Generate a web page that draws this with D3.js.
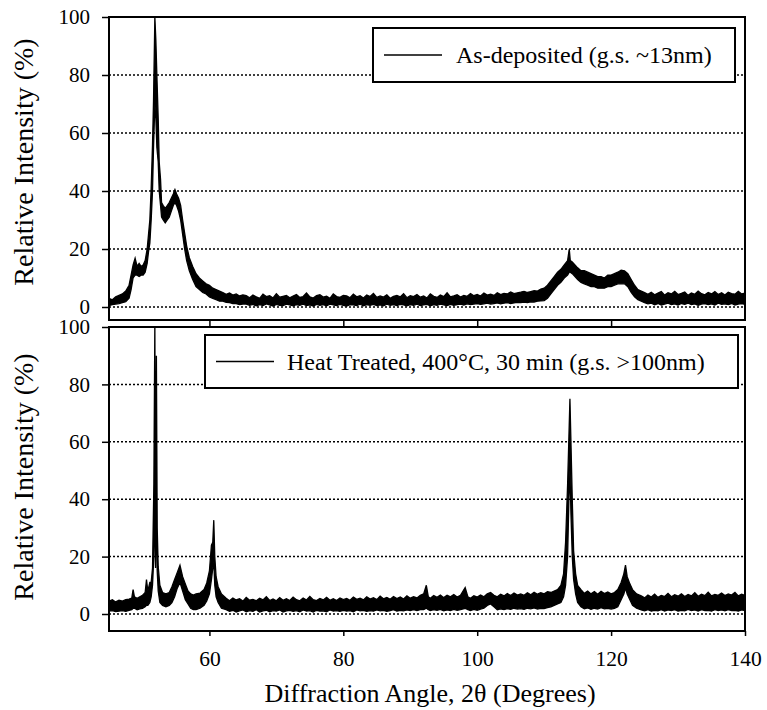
<!DOCTYPE html>
<html>
<head>
<meta charset="utf-8">
<script src="https://cdn.jsdelivr.net/npm/d3@7"></script>
<style>
  body { margin: 0; background: #fff; }
  svg text { font-family: "Liberation Serif", "Times New Roman", Times, serif !important; fill: #000; }
</style>
</head>
<body>
<div id="chart"></div>
<script>
// tick values
const yTicks = [0, 20, 40, 60, 80, 100];
const gridTicks = [0, 20, 40, 60, 80];
const xTicks = [60, 80, 100, 120, 140];

const legendLabels = ['As-deposited (g.s. ~13nm)', 'Heat Treated, 400\u00B0C, 30 min (g.s. >100nm)'];

// [angle, low edge of noise band, high edge of noise band]
const asDeposited = [
  [45, 0.5, 3], [45.5, 0.8, 2.5], [46, 1, 3.5], [46.5, 1.2, 4], [47, 1.5, 4.5], [47.5, 1.8, 5.5],
  [48, 3, 7.5], [48.3, 6, 11], [48.6, 10, 14.5], [48.9, 11, 16.8], [49.2, 11, 14], [49.5, 10.5, 15],
  [49.8, 11, 14], [50.1, 11, 14.5], [50.4, 12, 16], [50.7, 15, 20], [50.9, 19, 25], [51.1, 22, 30],
  [51.3, 30, 41], [51.5, 40, 56], [51.65, 55, 71], [51.85, 70, 100], [52.0, 65, 92], [52.15, 55, 80],
  [52.35, 50, 65], [52.5, 40, 50], [52.7, 35, 44], [52.85, 31, 36], [53.1, 30, 35], [53.4, 29, 34],
  [53.7, 30, 35], [54.0, 31, 36], [54.3, 33, 37.5], [54.6, 35, 39], [54.85, 36, 40.5], [55.1, 35, 39],
  [55.4, 33, 37.5], [55.7, 30, 35], [56.0, 25, 30], [56.3, 20, 25.5], [56.6, 16, 21], [57.0, 12.5, 17],
  [57.5, 9.5, 14], [58.0, 7, 11.5], [58.5, 6, 10], [59.0, 5, 9], [59.5, 4.5, 8], [60, 3.5, 7.5],
  [60.5, 3, 6.5], [61, 2.5, 6], [61.5, 2, 5.5], [62, 2, 5], [62.5, 1.6, 4.4], [63, 1.5, 4.8],
  [63.5, 1.2, 4.1], [64, 1.2, 4.5], [64.5, 0.8, 3.8], [65, 1, 4.2],
  [65.5, 1.0, 3.9], [66, 0.6, 3.2], [66.5, 0.9, 4.1], [67, 0.4, 3.5], [67.5, 0.8, 3.0], [68, 0.5, 4.4],
  [68.5, 1.1, 3.6], [69, 0.7, 3.9], [69.5, 0.3, 3.1], [70, 0.9, 4.6], [70.5, 0.6, 3.4], [71, 0.5, 3.7],
  [71.5, 1.0, 4.0], [72, 0.7, 3.2], [72.5, 0.4, 3.8], [73, 0.8, 4.3], [73.5, 0.6, 3.3], [74, 1.0, 3.6],
  [74.5, 0.5, 4.8], [75, 0.7, 3.5], [75.5, 0.3, 3.1], [76, 0.9, 3.9], [76.5, 0.6, 4.2], [77, 0.8, 3.4],
  [77.5, 0.4, 3.7], [78, 1.0, 3.0], [78.5, 0.7, 4.5], [79, 0.5, 3.6], [79.5, 0.9, 3.3], [80, 0.6, 4.0],
  [80.5, 0.3, 3.8], [81, 0.8, 3.2], [81.5, 0.7, 4.4], [82, 0.5, 3.5], [82.5, 1.0, 3.9], [83, 0.4, 3.1],
  [83.5, 0.8, 4.1], [84, 0.6, 3.6], [84.5, 0.9, 4.7], [85, 0.5, 3.3], [85.5, 0.7, 3.8], [86, 0.4, 3.4],
  [86.5, 1.0, 4.2], [87, 0.6, 3.0], [87.5, 0.8, 3.7], [88, 0.5, 4.0], [88.5, 0.9, 3.5], [89, 0.7, 4.6],
  [89.5, 0.4, 3.2], [90, 0.8, 3.9], [90.5, 0.6, 3.6], [91, 1.0, 4.3], [91.5, 0.5, 3.4], [92, 0.7, 3.8],
  [92.5, 0.9, 3.1], [93, 0.4, 4.5], [93.5, 0.8, 3.7], [94, 0.6, 3.3], [94.5, 1.0, 4.1], [95, 0.7, 3.6],
  [95.5, 0.5, 4.9], [96, 0.9, 3.5], [96.5, 0.6, 3.8], [97, 0.8, 4.2], [97.5, 1.0, 3.4], [98, 0.7, 4.0],
  [98.5, 1.1, 3.7], [99, 0.8, 4.6], [99.5, 1.0, 3.9], [100, 1.2, 4.3], [100.5, 0.9, 3.8], [101, 1.1, 4.8],
  [101.5, 1.3, 4.1], [102, 1.0, 4.4], [102.5, 1.2, 4.0], [103, 1.4, 4.9], [103.5, 1.1, 4.3], [104, 1.3, 4.7],
  [104.5, 1.5, 4.5], [105, 1.2, 5.2], [105.5, 1.4, 4.6], [106, 1.6, 4.9], [106.5, 1.5, 5.1], [107, 1.7, 5.4],
  [107.5, 1.5, 5.0], [108, 1.8, 5.3], [108.5, 1.7, 5.6], [109, 2, 5.5], [109.5, 2.1, 6.2], [110, 2.2, 6.5],
  [110.5, 3, 7.5], [111, 4.5, 9], [111.5, 6, 10.5],
  [112, 7.5, 12], [112.5, 8.5, 13], [113, 10, 14.5], [113.5, 11, 16], [113.75, 12, 20], [113.9, 12, 16],
  [114.2, 11.5, 15.5], [114.6, 10.5, 14.5], [115, 9.5, 13.5], [115.5, 8.5, 12.5], [116, 8, 12.5],
  [116.5, 7.5, 12], [117, 7, 11.5], [117.5, 7, 11], [118, 6.5, 10.5], [118.5, 6.5, 10.5], [119, 6.5, 10],
  [119.5, 7, 11], [120, 7, 11], [120.5, 7.5, 11.5], [121, 8, 12], [121.5, 8, 12.7], [122, 8, 12.5],
  [122.5, 7, 11.5], [123, 5, 9.5], [123.5, 3.5, 7.5], [124, 2.5, 6], [124.5, 2, 5.5],
  [125, 1.5, 5.0], [125.5, 1.1, 4.4], [126, 1.3, 5.1], [126.5, 0.8, 4.2], [127, 1.2, 4.8], [127.5, 0.7, 5.3],
  [128, 1.0, 4.1], [128.5, 1.3, 4.9], [129, 0.8, 4.5], [129.5, 1.1, 5.4], [130, 0.7, 4.3], [130.5, 1.2, 4.7],
  [131, 0.9, 5.2], [131.5, 1.3, 4.0], [132, 0.8, 4.8], [132.5, 1.1, 4.4], [133, 0.6, 5.5], [133.5, 1.0, 4.6],
  [134, 1.2, 4.2], [134.5, 0.8, 5.0], [135, 1.1, 4.5], [135.5, 0.7, 5.3], [136, 1.3, 4.3], [136.5, 0.9, 4.9],
  [137, 1.1, 4.1], [137.5, 0.8, 5.1], [138, 1.2, 4.6], [138.5, 0.7, 4.4], [139, 1.0, 5.4], [139.5, 1.2, 4.5],
  [140, 0.9, 4.8]
];

const heatTreated = [
  [45, 1, 4.5], [45.5, 1.2, 5], [46, 0.8, 4.2], [46.5, 1, 4.8], [47, 1.2, 4.5], [47.5, 0.9, 5],
  [48, 1.3, 5.2], [48.4, 1.5, 5.5], [48.6, 2, 8.5], [48.8, 2, 6], [49.2, 1.5, 5.5], [49.6, 1.8, 6],
  [50, 2, 6.5], [50.4, 2.5, 7.5], [50.6, 3, 12], [50.8, 3, 8], [51.1, 4, 11], [51.3, 6, 11],
  [51.5, 10, 16], [51.7, 20, 45], [51.85, 40, 102], [51.95, 16, 25], [52.08, 40, 90], [52.2, 15, 30],
  [52.35, 8, 16.5], [52.6, 4, 10], [53, 3, 7.5], [53.5, 2.5, 7], [54, 3, 7.5], [54.4, 4, 9.5],
  [54.8, 6, 12], [55.2, 9, 14.5], [55.6, 11, 17], [56.0, 8, 13], [56.4, 5, 10.5], [56.8, 3.5, 8],
  [57.2, 2, 7], [57.6, 1.5, 6.6], [58.0, 1.5, 7], [58.6, 2, 7.3], [59.2, 3, 8.5], [59.6, 4.5, 10.8],
  [60.0, 7, 15], [60.3, 12, 24], [60.5, 16, 25], [60.65, 18, 32.7], [60.8, 10, 20], [61.0, 6, 13],
  [61.3, 4, 9.5], [61.8, 2, 7],
  [62.5, 1.5, 5.5], [63, 0.9, 4.6], [63.5, 1.3, 5.6], [64, 0.7, 4.9], [64.5, 1.1, 5.3], [65, 1.4, 4.5],
  [65.5, 0.8, 5.8], [66, 1.2, 4.8], [66.5, 0.9, 5.1], [67, 1.5, 4.6], [67.5, 0.7, 5.5], [68, 1.1, 4.9],
  [68.5, 1.3, 6.0], [69, 0.8, 4.7], [69.5, 1.2, 5.2], [70, 1.0, 4.6], [70.5, 1.4, 5.7], [71, 0.7, 4.8],
  [71.5, 1.1, 5.3], [72, 1.3, 4.7], [72.5, 0.9, 5.9], [73, 1.2, 5.0], [73.5, 0.8, 4.6], [74, 1.4, 5.6],
  [74.5, 1.0, 4.9], [75, 1.2, 6.1], [75.5, 0.7, 5.0], [76, 1.3, 4.7], [76.5, 1.0, 5.4], [77, 1.1, 4.9],
  [77.5, 0.8, 5.8], [78, 1.4, 4.8], [78.5, 1.0, 5.3], [79, 1.2, 4.7], [79.5, 0.9, 5.6], [80, 1.3, 5.0],
  [80.5, 1.0, 5.4], [81, 1.2, 4.8], [81.5, 0.8, 5.9], [82, 1.4, 5.1], [82.5, 1.1, 5.5], [83, 1.3, 4.9],
  [83.5, 0.9, 6.0], [84, 1.2, 5.2], [84.5, 1.0, 5.7], [85, 1.4, 5.0], [85.5, 1.1, 6.2], [86, 1.3, 5.3],
  [86.5, 0.9, 5.8], [87, 1.2, 5.1], [87.5, 1.5, 6.1], [88, 1.0, 5.4], [88.5, 1.3, 5.9], [89, 1.1, 5.2],
  [89.5, 1.4, 6.3], [90, 1.2, 5.5], [90.5, 1.5, 6.0], [91, 1.2, 5.6], [91.5, 1.5, 6.5], [92, 1.5, 7],
  [92.4, 2, 10], [92.7, 1.5, 6], [93, 1.2, 5.5], [93.5, 1.5, 6.4], [94, 1.3, 5.8], [94.5, 1.6, 6.6],
  [95, 1.1, 5.7], [95.5, 1.4, 6.5], [96, 1.2, 6.0], [96.5, 1.6, 6.8], [97, 1.3, 5.9], [97.5, 1.5, 6.5],
  [98.2, 2, 9.2], [98.6, 1.5, 6], [99, 1.2, 5.5], [99.5, 1.6, 6.4], [100, 1.3, 5.9], [100.5, 1.7, 6.6],
  [101, 2, 6], [101.5, 3, 7], [102, 3.5, 7.5], [102.5, 2.5, 6.5], [103, 1.5, 6], [103.5, 1.8, 6.9],
  [104, 1.5, 6.3], [104.5, 1.9, 7.1], [105, 1.6, 6.4], [105.5, 2.0, 7.3], [106, 1.7, 6.6], [106.5, 1.9, 7.0],
  [107, 1.6, 6.5], [107.5, 2.0, 7.4], [108, 1.8, 6.7], [108.5, 2.1, 7.6], [109, 1.7, 6.9], [109.5, 2.0, 7.4],
  [110, 1.9, 7.0], [110.5, 2.2, 7.8], [111, 2.5, 7.5], [111.5, 3, 8], [112, 3.5, 8.5], [112.5, 4, 10],
  [112.9, 6, 14], [113.2, 10, 25], [113.5, 20, 45], [113.7, 40, 62], [113.85, 50, 75], [114.0, 35, 60],
  [114.2, 20, 40], [114.4, 12, 22], [114.7, 7, 14], [115, 4, 10],
  [115.5, 2.5, 8.5], [116, 1.8, 7.2], [116.5, 2.1, 8.0], [117, 1.6, 7.0], [117.5, 2.0, 7.8], [118, 1.7, 6.9],
  [118.5, 2.2, 7.9], [119, 1.8, 7.1], [119.5, 2.0, 7.7], [120, 1.7, 7.0], [120.5, 2, 7.5], [121, 2.5, 8.5],
  [121.5, 5, 11], [121.9, 7, 14], [122.15, 9, 17], [122.4, 7, 13], [122.8, 5, 10.5], [123.2, 3, 8.5],
  [123.8, 2, 7],
  [124.5, 1.4, 6.3], [125, 1.1, 5.6], [125.5, 1.5, 6.6], [126, 1.0, 5.9], [126.5, 1.3, 6.9], [127, 1.1, 5.8],
  [127.5, 1.5, 6.5], [128, 1.0, 6.1], [128.5, 1.4, 7.2], [129, 1.2, 6.0], [129.5, 1.5, 6.7], [130, 1.0, 6.2],
  [130.5, 1.3, 7.0], [131, 1.1, 6.1], [131.5, 1.6, 6.8], [132, 1.2, 6.3], [132.5, 1.4, 7.4], [133, 1.0, 6.2],
  [133.5, 1.5, 6.9], [134, 1.2, 6.4], [134.5, 1.3, 7.6], [135, 1.0, 6.3], [135.5, 1.5, 6.8], [136, 1.2, 6.5],
  [136.5, 1.4, 7.3], [137, 1.1, 6.4], [137.5, 1.5, 7.0], [138, 1.2, 6.6], [138.5, 1.3, 7.5], [139, 1.0, 6.3],
  [139.5, 1.4, 6.9], [140, 1.2, 6.5]
];

const width = 767;
const height = 710;
const serif = '"Liberation Serif", "Times New Roman", Times, serif';

const svg = d3.select('#chart')
  .append('svg')
  .attr('width', width)
  .attr('height', height)
  .attr('font-family', serif);

const x = d3.scaleLinear()
  .domain([45, 140])
  .range([109, 745]);

const panels = [
  { id: 'top', data: asDeposited, label: legendLabels[0], y0: 307, y100: 17, bottom: 320,
    legend: { x: 373, y: 28, w: 362, h: 54 } },
  { id: 'bottom', data: heatTreated, label: legendLabels[1], y0: 614, y100: 327, bottom: 631,
    legend: { x: 205, y: 335, w: 533, h: 53 } }
];

panels.forEach((p, i) => {
  const y = d3.scaleLinear().domain([0, 100]).range([p.y0, p.y100]);
  const g = svg.append('g');

  g.append('clipPath')
    .attr('id', 'clip-' + p.id)
    .append('rect')
    .attr('x', x.range()[0])
    .attr('y', p.y100)
    .attr('width', x.range()[1] - x.range()[0])
    .attr('height', p.bottom - p.y100);

  // dotted gridlines
  g.selectAll('.grid')
    .data(gridTicks)
    .enter().append('line')
    .attr('x1', x.range()[0])
    .attr('x2', x.range()[1])
    .attr('y1', d => y(d))
    .attr('y2', d => y(d))
    .attr('stroke', '#000')
    .attr('stroke-width', 1.5)
    .attr('stroke-dasharray', '2,2');

  // scan trace (noise band)
  const area = d3.area()
    .x(d => x(d[0]))
    .y0(d => y(d[1]))
    .y1(d => y(d[2]));

  g.append('path')
    .datum(p.data)
    .attr('clip-path', `url(#clip-${p.id})`)
    .attr('d', area)
    .attr('fill', '#000')
    .attr('stroke', '#000')
    .attr('stroke-width', 1.3)
    .attr('stroke-linejoin', 'miter');

  // frame
  g.append('rect')
    .attr('x', x.range()[0])
    .attr('y', p.y100)
    .attr('width', x.range()[1] - x.range()[0])
    .attr('height', p.bottom - p.y100)
    .attr('fill', 'none')
    .attr('stroke', '#000')
    .attr('stroke-width', 2);

  // y axis
  const yAxis = g.append('g')
    .attr('transform', `translate(${x.range()[0]},0)`)
    .call(d3.axisLeft(y).tickValues(yTicks).tickSize(7).tickPadding(12));
  yAxis.attr('font-family', serif);
  yAxis.select('.domain').remove();
  yAxis.selectAll('line').attr('stroke-width', 1.5);
  yAxis.selectAll('text').attr('font-size', '21px');

  // x axis
  if (i === 0) {
    const xAxis = g.append('g')
      .attr('transform', `translate(0,${p.bottom})`)
      .call(d3.axisBottom(x).tickValues(xTicks.slice(0, -1)).tickSize(7).tickFormat(''));
    xAxis.select('.domain').remove();
    xAxis.selectAll('line').attr('stroke-width', 1.5);
  } else {
    const xAxis = g.append('g')
      .attr('transform', `translate(0,${p.bottom})`)
      .call(d3.axisBottom(x).tickValues(xTicks).tickSize(5).tickPadding(15));
    xAxis.attr('font-family', serif);
    xAxis.select('.domain').remove();
    xAxis.selectAll('line').attr('stroke-width', 1.5);
    xAxis.selectAll('text').attr('font-size', '21.5px');
  }

  // y title
  g.append('text')
    .attr('transform', `translate(33,${i === 0 ? 162 : 477}) rotate(-90)`)
    .attr('text-anchor', 'middle')
    .attr('font-size', '28px')
    .text('Relative Intensity (%)');

  // legend
  const lg = g.append('g').attr('transform', `translate(${p.legend.x},${p.legend.y})`);
  lg.append('rect')
    .attr('width', p.legend.w)
    .attr('height', p.legend.h)
    .attr('fill', '#fff')
    .attr('stroke', '#000')
    .attr('stroke-width', 2);
  lg.append('line')
    .attr('x1', 11).attr('x2', 69)
    .attr('y1', p.legend.h / 2).attr('y2', p.legend.h / 2)
    .attr('stroke', '#000')
    .attr('stroke-width', 1.5);
  lg.append('text')
    .attr('x', i === 0 ? 83 : 82)
    .attr('y', p.legend.h / 2 + 8)
    .attr('font-size', '24px')
    .text(p.label);
});

// x title
svg.append('text')
  .attr('x', 430)
  .attr('y', 702)
  .attr('text-anchor', 'middle')
  .attr('font-size', '26px')
  .text('Diffraction Angle, 2\u03B8 (Degrees)');
</script>
</body>
</html>
